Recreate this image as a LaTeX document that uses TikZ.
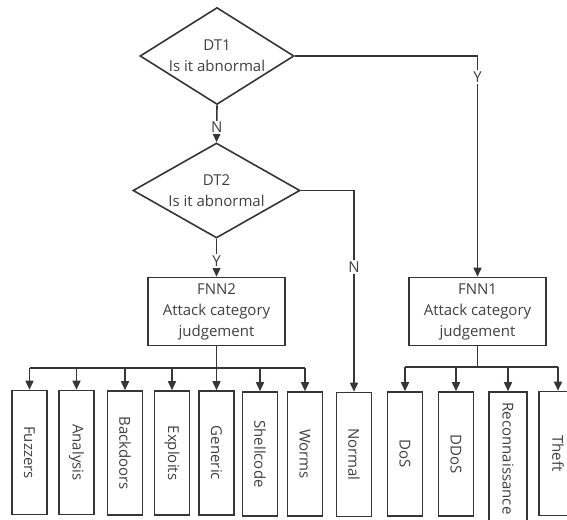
\documentclass[tikz,border=0pt]{standalone}
\usepackage{fontspec}
\setmainfont{Open Sans}
\usetikzlibrary{shapes.geometric,arrows.meta}
\definecolor{ink}{HTML}{363636}
\definecolor{txt}{HTML}{404040}
\begin{document}
\begin{tikzpicture}[x=1pt,y=-1pt,
  every node/.style={font=\fontsize{15}{21}\selectfont, text=txt},
  link/.style={draw=ink, line width=1.6pt},
  arr/.style={link, -{Triangle[length=9pt,width=8pt]}},
  decide/.style={diamond, draw=ink, line width=1.6pt, inner sep=0pt, align=center},
  judge/.style={rectangle, draw=ink, line width=1.6pt, align=center,
    minimum width=137pt, minimum height=68pt, inner sep=0pt},
  leaf/.style={rectangle, draw=ink, line width=1.6pt, minimum width=35pt,
    minimum height=124pt, inner sep=0pt},
  tag/.style={fill=white, inner sep=1.5pt}]
\useasboundingbox (0,0) rectangle (567,519);
\clip (0,0) rectangle (567,519);

% decision diamonds
\node[decide, minimum width=154pt, minimum height=97pt, aspect=1.59] (dt1) at (217,56) {DT1\\Is it abnormal};
\node[decide, minimum width=167pt, minimum height=95pt, aspect=1.76] (dt2) at (216.5,190.5) {DT2\\Is it abnormal};

% classifiers
\node[judge] (fnn2) at (216.5,311.5) {FNN2\\Attack category\\judgement};
\node[judge] (fnn1) at (477.5,311.5) {FNN1\\Attack category\\judgement};

% output classes
\node[leaf] (fuzzers)   at (29.5,452.5) {\rotatebox{-90}{Fuzzers}};
\node[leaf] (analysis)  at (76.5,452.5) {\rotatebox{-90}{Analysis}};
\node[leaf] (backdoors) at (125,453)    {\rotatebox{-90}{Backdoors}};
\node[leaf] (exploits)  at (172,453)    {\rotatebox{-90}{Exploits}};
\node[leaf] (generic)   at (216.5,453)  {\rotatebox{-90}{Generic}};
\node[leaf] (shellcode) at (260,454)    {\rotatebox{-90}{Shellcode}};
\node[leaf] (worms)     at (305,454)    {\rotatebox{-90}{Worms}};
\node[leaf] (normal)    at (354,454.5)  {\rotatebox{-90}{Normal}};
\node[leaf] (dos)       at (405,454)    {\rotatebox{-90}{DoS}};
\node[leaf] (ddos)      at (456,454)    {\rotatebox{-90}{DDoS}};
\node[leaf, minimum width=38pt, minimum height=133pt] (recon) at (508,458.5) {\rotatebox{-90}{Reconnaissance}};
\node[leaf, minimum width=38pt] (theft) at (558,453.5) {\rotatebox{-90}{Theft}};

% decision flow
\draw[arr] (dt1.south) -- (dt2.north) node[tag, pos=0.6] {N};
\draw[arr] (dt2.south) -- (fnn2.north) node[tag, pos=0.58] {Y};
\draw[arr] (dt2.east) -| (normal.north) node[tag, pos=0.69] {N};
\draw[arr] (dt1.east) -| (fnn1.north) node[tag, pos=0.548] {Y};

% FNN2 fan-out
\coordinate (b2) at (216.5,368);
\draw[link] (fnn2.south) -- (b2);
\draw[link] (b2 -| fuzzers) -- (b2 -| worms);
\foreach \n in {fuzzers,analysis,backdoors,exploits,generic,shellcode,worms}
  \draw[arr] (b2 -| \n) -- (\n.north);

% FNN1 fan-out
\coordinate (b1) at (477.5,367);
\draw[link] (fnn1.south) -- (b1);
\draw[link] (b1 -| dos) -- (b1 -| theft);
\foreach \n in {dos,ddos,recon,theft}
  \draw[arr] (b1 -| \n) -- (\n.north);
\end{tikzpicture}
\end{document}
